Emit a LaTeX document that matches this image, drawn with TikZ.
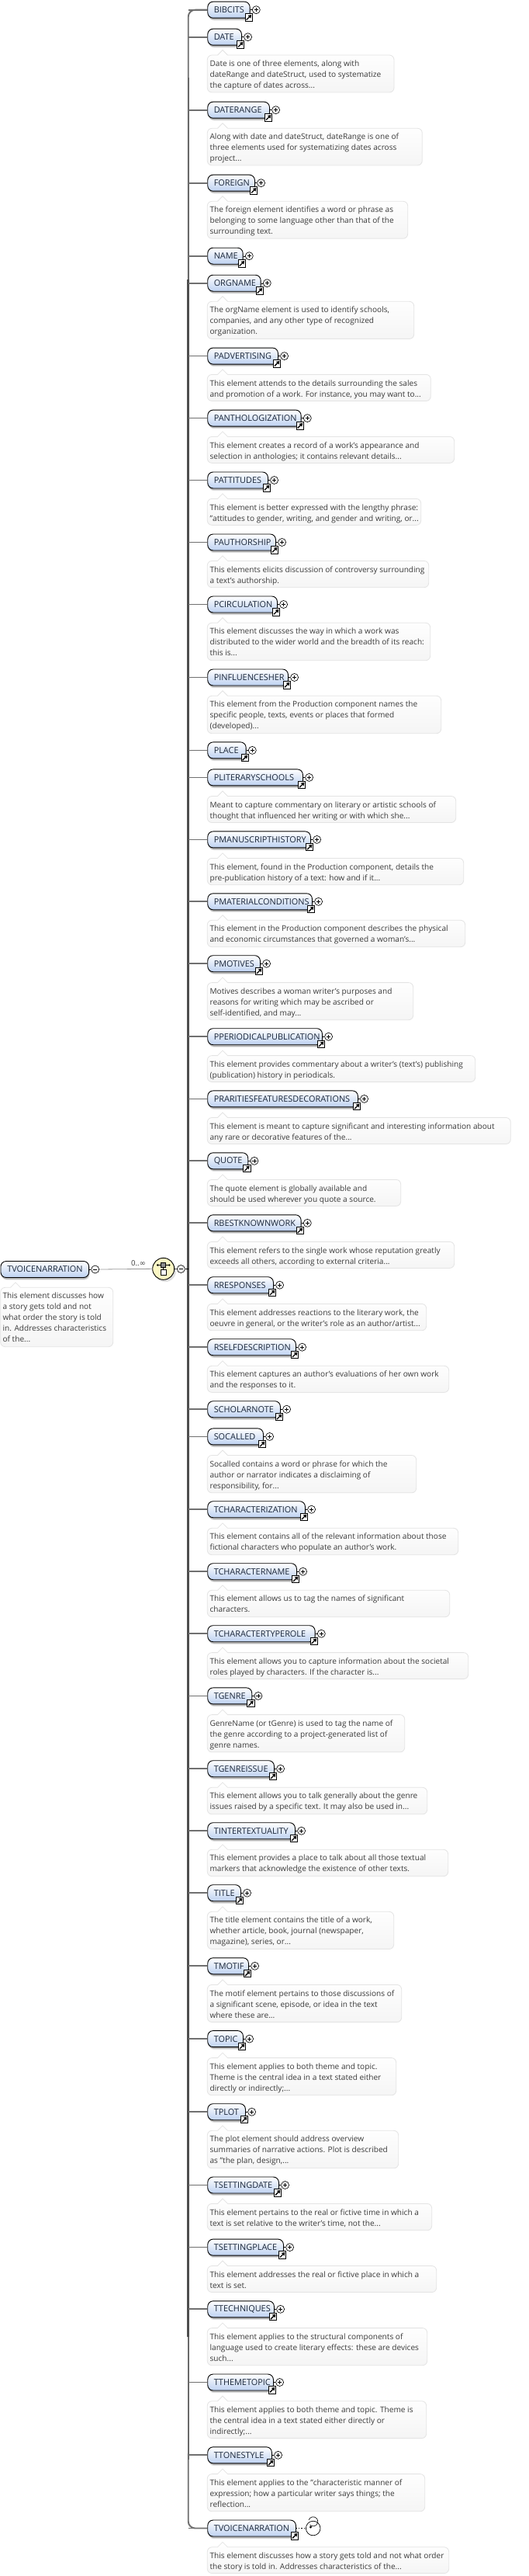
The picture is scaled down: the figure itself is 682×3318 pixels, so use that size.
\documentclass[tikz,border=0pt]{standalone}
\usepackage{fontspec}
\setmainfont{Open Sans}[Ligatures=NoCommon]
\newfontfamily\symfont{DejaVu Sans}
\usetikzlibrary{arrows.meta,calc}
\definecolor{notebd}{HTML}{E4E4E4}
\definecolor{notebot}{HTML}{F5F5F5}
\definecolor{notetxt}{HTML}{3A3A3A}
\definecolor{lbltxt}{HTML}{1A2638}
\definecolor{boxbot}{HTML}{BDD1F1}
\definecolor{shadowa}{HTML}{E0E0E0}
\definecolor{shadowb}{HTML}{B4B4B4}
\definecolor{spinec}{HTML}{4E4E4E}
\definecolor{branchc}{HTML}{707070}
\definecolor{lemon}{HTML}{FBF7C4}
\tikzset{
  elembox/.style={draw=black,line width=.9pt,rounded corners=7pt,top color=white,bottom color=boxbot,
    anchor=west,minimum height=21pt,inner xsep=8pt,inner ysep=0pt,align=left,text=lbltxt,
    font=\fontsize{10.9pt}{12pt}\selectfont},
  notebg/.style={draw=notebd,line width=.8pt,top color=white,bottom color=notebot},
  notetext/.style={anchor=north west,inner sep=0pt,align=left,text=notetxt,
    font=\fontsize{10.1pt}{14pt}\selectfont},
  branch/.style={draw=branchc,line width=1.7pt},
  spine/.style={draw=spinec,line width=3.4pt},
  spinemid/.style={draw=spinec!85,line width=2.4pt},
  spinethin/.style={draw=branchc,line width=1.9pt,rounded corners=9pt},
  thinlink/.style={draw=black,line width=.4pt},
  greylink/.style={draw=black!40,line width=.8pt},
  toggle/.style={circle,draw=black,line width=.65pt,fill=white,minimum size=10pt,inner sep=0pt},
  toggleline/.style={line width=.5pt},
  linkicon/.style={draw=black,line width=.9pt,fill=white,minimum size=9.4pt,inner sep=0pt},
}
\newcommand{\elm}[4]{% id, y, right edge, label
  \pgfmathsetmacro{\elmw}{#3-267.3}
  \pgfmathsetmacro{\elmt}{\elmw-16}
  \fill[shadowa,rounded corners=7pt] (269,{#2-7}) rectangle ({#3+1.6},{#2+13.6});
  \fill[shadowb,rounded corners=7pt] (268.5,{#2-7}) rectangle ({#3+.8},{#2+12.6});
  \node[elembox,minimum width=\elmw pt,text width=\elmt pt] (#1) at (267.3,#2) {\mbox{#4}};
  \draw[branch] (spinetop |- #1.west) -- (#1.west);
  \coordinate (#1-lc) at ({#3-1},{#2+9.8});
  \node[linkicon] (#1-link) at (#1-lc) {};
  \draw[line width=1.3pt,-{Triangle[length=3.8pt,width=5pt]}] ($(#1-lc)+(-3,3)$) -- ($(#1-lc)+(3.4,-3.4)$);
}
\newcommand{\plusc}[3]{% id, y, right
  \node[toggle] (#1-plus) at ({#3+8.6},#2) {};
  \draw[thinlink] (#1.east) -- (#1-plus.west);
  \draw[toggleline] ($(#1-plus)+(-2.6,0)$) -- ($(#1-plus)+(2.6,0)$) ($(#1-plus)+(0,-2.6)$) -- ($(#1-plus)+(0,2.6)$);
}
\newcommand{\ent}[4]{\elm{#1}{#2}{#3}{#4}\plusc{#1}{#2}{#3}}
\newcommand{\nte}[5]{% id, top, bottom, right, text
  \path[notebg] (267.3,{#2+6}) [rounded corners=6pt] -- (267.3,#2) [sharp corners] -- (280.5,#2) -- (287,{#2-6.5}) -- (293.5,#2) [rounded corners=6pt] -- (#4,#2) -- (#4,#3) -- (267.3,#3) [sharp corners] -- cycle;
  \node[notetext] (#1-note) at (270.4,{#2+5.4}) {\rule{0pt}{9pt}#5};
}
\begin{document}
\begin{tikzpicture}[x=1pt,y=-1pt]
\useasboundingbox (0,0) rectangle (682,3318);
\fill[white] (0,0) rectangle (682,3318);
\coordinate (spinetop) at (242.7,24);
\coordinate (spinetopA) at (242.7,100);
\coordinate (spinebotA) at (242.7,3168);
% spine
\draw[spinethin] (267.3,12.7) -- (242.7,12.7) -- (242.7,360);
\draw[spinethin] (267.3,3256.5) -- (242.7,3256.5) -- (242.7,3160);
\draw[spine] (242.7,360) -- (242.7,3010);
\draw[spinemid] (spinetopA) -- (242.7,360);
\draw[spinemid] (242.7,3010) -- (spinebotA);
% root
\fill[shadowa,rounded corners=7pt] (2,1628) rectangle (115.6,1648.6);
\fill[shadowb,rounded corners=7pt] (1.5,1628) rectangle (114.8,1647.6);
\node[elembox,minimum width=113.7pt,text width=97pt] (root) at (.5,1635) {\mbox{TVOICENARRATION}};
\path[notebg] (.7,{1658.3+6}) [rounded corners=6pt] -- (.7,1658.3) [sharp corners] -- (13.5,1658.3) -- (20,1651.8) -- (26.5,1658.3) [rounded corners=6pt] -- (145.7,1658.3) -- (145.7,1734.7) -- (.7,1734.7) [sharp corners] -- cycle;
\node[notetext] (rootnote) at (3.4,1663.7) {\rule{0pt}{9pt}This element discusses how\\a story gets told and not\\what order the story is told\\in. Addresses characteristics\\of the...};
\node[toggle] (rootminus) at (122.7,1635) {};
\draw[thinlink] (root.east) -- (rootminus.west);
\draw[toggleline] (120.1,1635) -- (125.3,1635);
\fill[shadowa] (212.7,1636.8) circle (14.3pt);
\node[circle,draw=black,line width=.9pt,fill=lemon,minimum size=28pt,inner sep=0pt] (seq) at (210.7,1634.3) {};
\draw[greylink] (rootminus.east) -- (seq.west);
\node[font=\fontsize{9.6pt}{10pt}\selectfont,text=notetxt,inner sep=0pt] (occurs) at (178.5,1627) {0..{\symfont∞}};
\draw[line width=.7pt] (210.7,1631) -- (210.7,1636);
\draw[line width=.7pt] (203.2,1629.5) -- (218.2,1629.5);
\fill (203.2,1629.5) circle (1.4pt) (218.2,1629.5) circle (1.4pt);
\node[draw=black,line width=.7pt,fill=black!45,minimum size=6pt,inner sep=0pt] (seqa) at (210.7,1629.5) {};
\node[draw=black,line width=.8pt,fill=white,minimum size=6.4pt,inner sep=0pt] (seqb) at (210.7,1638.8) {};
\node[toggle] (seqminus) at (233.3,1634.5) {};
\draw[toggleline] (230.7,1634.5) -- (235.9,1634.5);
\draw[thinlink] (seq.east) -- (seqminus.west);
\draw[line width=1pt] (seqminus.east) -- (spinetop |- seqminus.east);
% elements
\ent{a01}{12.7}{321.7}{BIBCITS}
\nte{a02}{71}{119}{508}{Date is one of three elements, along with\\dateRange and dateStruct, used to systematize\\the capture of dates across...}
\ent{a02}{47.7}{311}{DATE}
\nte{a03}{165.3}{213}{544.3}{Along with date and dateStruct, dateRange is one of\\three elements used for systematizing dates across\\project...}
\ent{a03}{141.7}{347}{DATERANGE}
\nte{a04}{259.3}{307.3}{525.7}{The foreign element identifies a word or phrase as\\belonging to some language other than that of the\\surrounding text.}
\ent{a04}{235.7}{328}{FOREIGN}
\ent{a05}{329.7}{312.7}{NAME}
\nte{a06}{388.3}{436.5}{533.7}{The orgName element is used to identify schools,\\companies, and any other type of recognized\\organization.}
\ent{a06}{364.7}{335.7}{ORGNAME}
\nte{a07}{482.4}{516.5}{555.3}{This element attends to the details surrounding the sales\\and promotion of a work. For instance, you may want to...}
\ent{a07}{458.6}{358}{PADVERTISING}
\nte{a08}{562.4}{596.4}{585.7}{This element creates a record of a work's appearance and\\selection in anthologies; it contains relevant details...}
\ent{a08}{538.6}{387.7}{PANTHOLOGIZATION}
\nte{a09}{642.4}{676.4}{542.7}{This element is better expressed with the lengthy phrase:\\"attitudes to gender, writing, and gender and writing, or...}
\ent{a09}{618.5}{345}{PATTITUDES}
\nte{a10}{722.4}{756.7}{552.7}{This elements elicits discussion of controversy surrounding\\a text's authorship.}
\ent{a10}{698.5}{355}{PAUTHORSHIP}
\nte{a11}{802.3}{850.7}{554.7}{This element discusses the way in which a work was\\distributed to the wider world and the breadth of its reach:\\this is...}
\ent{a11}{778.5}{357}{PCIRCULATION}
\nte{a12}{896.3}{944.7}{568.7}{This element from the Production component names the\\specific people, texts, events or places that formed\\(developed)...}
\ent{a12}{872.5}{371}{PINFLUENCESHER}
\ent{a13}{966.4}{316.7}{PLACE}
\nte{a14}{1025.5}{1059.5}{587.7}{Meant to capture commentary on literary or artistic schools of\\thought that influenced her writing or with which she...}
\ent{a14}{1001.4}{390}{PLITERARYSCHOOLS}
\nte{a15}{1105.4}{1139.8}{597.7}{This element, found in the Production component, details the\\pre-publication history of a text: how and if it...}
\ent{a15}{1081.4}{400}{PMANUSCRIPTHISTORY}
\nte{a16}{1185.3}{1219.7}{599.7}{This element in the Production component describes the physical\\and economic circumstances that governed a woman's...}
\ent{a16}{1161.3}{402}{PMATERIALCONDITIONS}
\nte{a17}{1265.6}{1313.7}{532.7}{Motives describes a woman writer's purposes and\\reasons for writing which may be ascribed or\\self-identified, and may...}
\ent{a17}{1241.2}{335}{PMOTIVES}
\nte{a18}{1359.6}{1393.6}{612.7}{This element provides commentary about a writer's (text's) publishing\\(publication) history in periodicals.}
\ent{a18}{1335.2}{415}{PPERIODICALPUBLICATION}
\nte{a19}{1439.5}{1473.5}{658.3}{This element is meant to capture significant and interesting information about\\any rare or decorative features of the...}
\ent{a19}{1415.4}{461}{PRARITIESFEATURESDECORATIONS}
\nte{a20}{1519.4}{1553.4}{516.7}{The quote element is globally available and\\should be used wherever you quote a source.}
\ent{a20}{1495.3}{319.3}{QUOTE}
\nte{a21}{1599.4}{1633.4}{585.7}{This element refers to the single work whose reputation greatly\\exceeds all others, according to external criteria...}
\ent{a21}{1575.3}{387.7}{RBESTKNOWNWORK}
\nte{a22}{1679.4}{1713.8}{549.7}{This element addresses reactions to the literary work, the\\oeuvre in general, or the writer's role as an author/artist...}
\ent{a22}{1655.2}{352}{RRESPONSES}
\nte{a23}{1759.3}{1793.4}{578.7}{This element captures an author's evaluations of her own work\\and the responses to it.}
\ent{a23}{1735.2}{381}{RSELFDESCRIPTION}
\ent{a24}{1815.2}{361}{SCHOLARNOTE}
\nte{a25}{1874.5}{1922.8}{536.7}{Socalled contains a word or phrase for which the\\author or narrator indicates a disclaiming of\\responsibility, for...}
\ent{a25}{1850.4}{339}{SOCALLED}
\nte{a26}{1968.3}{2002.7}{590.7}{This element contains all of the relevant information about those\\fictional characters who populate an author's work.}
\ent{a26}{1944.2}{393}{TCHARACTERIZATION}
\nte{a27}{2048.3}{2082.7}{579.7}{This element allows us to tag the names of significant\\characters.}
\ent{a27}{2024.2}{382}{TCHARACTERNAME}
\nte{a28}{2128.6}{2162.6}{603.7}{This element allows you to capture information about the societal\\roles played by characters. If the character is...}
\ent{a28}{2104.2}{405.7}{TCHARACTERTYPEROLE}
\nte{a29}{2208.6}{2256.8}{521.7}{GenreName (or tGenre) is used to tag the name of\\the genre according to a project-generated list of\\genre names.}
\ent{a29}{2184.4}{324.3}{TGENRE}
\nte{a30}{2302.3}{2336.8}{550.7}{This element allows you to talk generally about the genre\\issues raised by a specific text. It may also be used in...}
\ent{a30}{2278.2}{353}{TGENREISSUE}
\nte{a31}{2382.3}{2416.7}{577.7}{This element provides a place to talk about all those textual\\markers that acknowledge the existence of other texts.}
\ent{a31}{2358.2}{380}{TINTERTEXTUALITY}
\nte{a32}{2462.3}{2510.5}{507.7}{The title element contains the title of a work,\\whether article, book, journal (newspaper,\\magazine), series, or...}
\ent{a32}{2438.2}{310}{TITLE}
\nte{a33}{2556.4}{2604.6}{517.7}{The motif element pertains to those discussions of\\a significant scene, episode, or idea in the text\\where these are...}
\ent{a33}{2532.3}{320}{TMOTIF}
\nte{a34}{2650.6}{2698.8}{510.7}{This element applies to both theme and topic.\\Theme is the central idea in a text stated either\\directly or indirectly;...}
\ent{a34}{2626.1}{313}{TOPIC}
\nte{a35}{2744.3}{2792.8}{513.7}{The plot element should address overview\\summaries of narrative actions. Plot is described\\as "the plan, design,...}
\ent{a35}{2720.2}{316}{TPLOT}
\nte{a36}{2838.4}{2872.8}{556.7}{This element pertains to the real or fictive time in which a\\text is set relative to the writer's time, not the...}
\ent{a36}{2814.5}{359}{TSETTINGDATE}
\nte{a37}{2918.5}{2952.5}{562.7}{This element addresses the real or fictive place in which a\\text is set.}
\ent{a37}{2894.6}{365}{TSETTINGPLACE}
\nte{a38}{2998.6}{3046.7}{550.7}{This element applies to the structural components of\\language used to create literary effects: these are devices\\such...}
\ent{a38}{2974.3}{353}{TTECHNIQUES}
\nte{a39}{3092.7}{3140.6}{549.7}{This element applies to both theme and topic. Theme is\\the central idea in a text stated either directly or\\indirectly;...}
\ent{a39}{3068.5}{352}{TTHEMETOPIC}
\nte{a40}{3186.6}{3234.8}{547.7}{This element applies to the "characteristic manner of\\expression; how a particular writer says things; the\\reflection...}
\ent{a40}{3162.3}{350}{TTONESTYLE}
\nte{a41}{3280.8}{3314.5}{578.7}{This element discusses how a story gets told and not what order\\the story is told in. Addresses characteristics of the...}
\elm{a41}{3256.5}{381}{TVOICENARRATION}
% recursion mark
\node[circle,draw=black,line width=.7pt,fill=white,minimum size=18.6pt,inner sep=0pt] (recur) at (403.7,3256.5) {};
\draw[line width=1.2pt,dotted] (a41.east) -- (recur.west);
\draw[line width=.6pt] (399.5,3252) arc (135:-160:6);
\fill (400.5,3255) circle (1.6pt);
\end{tikzpicture}
\end{document}
